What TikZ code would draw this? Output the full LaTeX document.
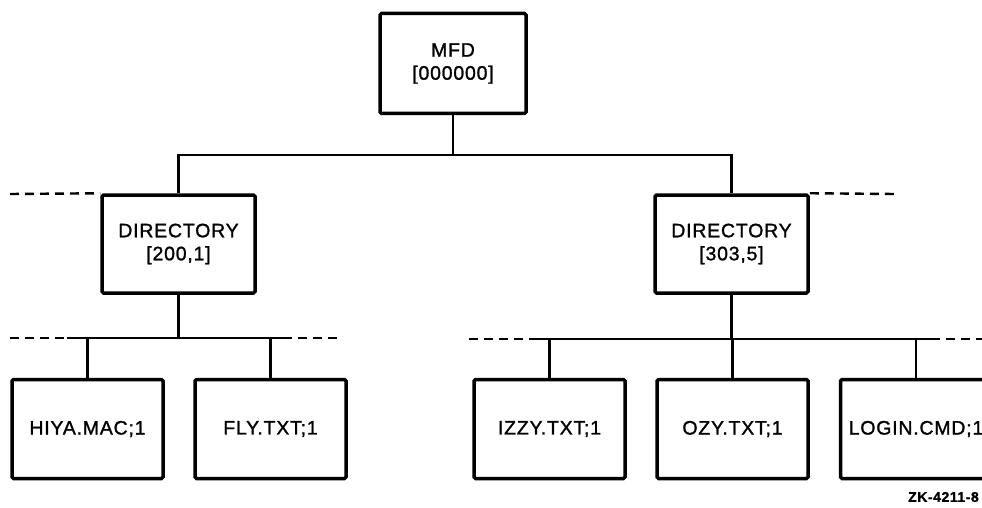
\documentclass[tikz,border=0pt]{standalone}
\usepackage{fontspec}
\setmainfont{Liberation Sans}[LetterSpace=4, FakeBold=1.3]
\begin{document}
\begin{tikzpicture}[x=1pt,y=-1pt,
  every node/.style={font=\fontsize{19.5}{23}\selectfont, inner sep=0pt, align=center},
  boxframe/.style={draw, line width=3.5pt, rounded corners=1.5pt},
  mfdbox/.style={boxframe, minimum width=146pt, minimum height=100pt},
  dirbox/.style={boxframe, minimum width=153pt, minimum height=98pt},
  filebox/.style={boxframe, minimum width=151pt, minimum height=99pt},
  conn/.style={line width=2.4pt},
  dashline/.style={line width=2.4pt, dash pattern=on 9pt off 6pt}]
\useasboundingbox (0,0) rectangle (982,508);
\clip (0,0) rectangle (982,508);

% master file directory
\node[mfdbox] (mfd) at (453,63.5) {MFD\\{}[000000]};

% user directories
\node[dirbox] (dirL) at (178.5,244) {DIRECTORY\\{}[200,1]};
\node[dirbox] (dirR) at (731.5,244) {DIRECTORY\\{}[303,5]};

% files
\node[filebox] (hiya)  at (87.5,429)  {HIYA.MAC;1};
\node[filebox] (fly)   at (270.5,429) {FLY.TXT;1};
\node[filebox] (izzy)  at (549.5,429) {IZZY.TXT;1};
\node[filebox] (ozy)   at (732.5,429) {OZY.TXT;1};
\node[filebox] (login) at (916,429)   {LOGIN.CMD;1};

% figure tag
\node[font=\fontsize{14}{16}\selectfont\bfseries, anchor=east] (tag) at (979,497) {ZK-4211-8};

% bus levels and dashed stubs
\coordinate (busTop) at (0,155);
\coordinate (busL) at (0,338);
\coordinate (busR) at (0,339);
\coordinate (dTopL) at (10,194);
\coordinate (dTopR) at (895,194);
\coordinate (solidL1) at (67,338);
\coordinate (solidL2) at (283,338);
\coordinate (dLowL1) at (10,338);
\coordinate (dLowL2) at (337,338);
\coordinate (solidR1) at (530,339);
\coordinate (solidR2) at (931,339);
\coordinate (dLowR1) at (469,339);
\coordinate (dLowR2) at (985,339);

% MFD to directories
\draw[conn] (mfd.south) -- (mfd.south |- busTop);
\draw[conn] (dirL.north) -- (dirL.north |- busTop) -- (dirR.north |- busTop) -- (dirR.north);
\draw[dashline] (dTopL) -- (dirL.north west);
\draw[dashline] (dirR.north east) -- (dTopR);

% directory [200,1] to its files
\draw[conn] (dirL.south) -- (dirL.south |- busL);
\draw[conn] (solidL1) -- (solidL2);
\draw[dashline] (dLowL1) -- (solidL1);
\draw[dashline] (solidL2) -- (dLowL2);
\draw[conn] (hiya.north) -- (hiya.north |- busL);
\draw[conn] (fly.north) -- (fly.north |- busL);

% directory [303,5] to its files
\draw[conn] (dirR.south) -- (dirR.south |- busR);
\draw[conn] (solidR1) -- (solidR2);
\draw[dashline] (dLowR1) -- (solidR1);
\draw[dashline] (solidR2) -- (dLowR2);
\draw[conn] (izzy.north) -- (izzy.north |- busR);
\draw[conn] (ozy.north) -- (ozy.north |- busR);
\draw[conn] (login.north) -- (login.north |- busR);
\end{tikzpicture}
\end{document}
